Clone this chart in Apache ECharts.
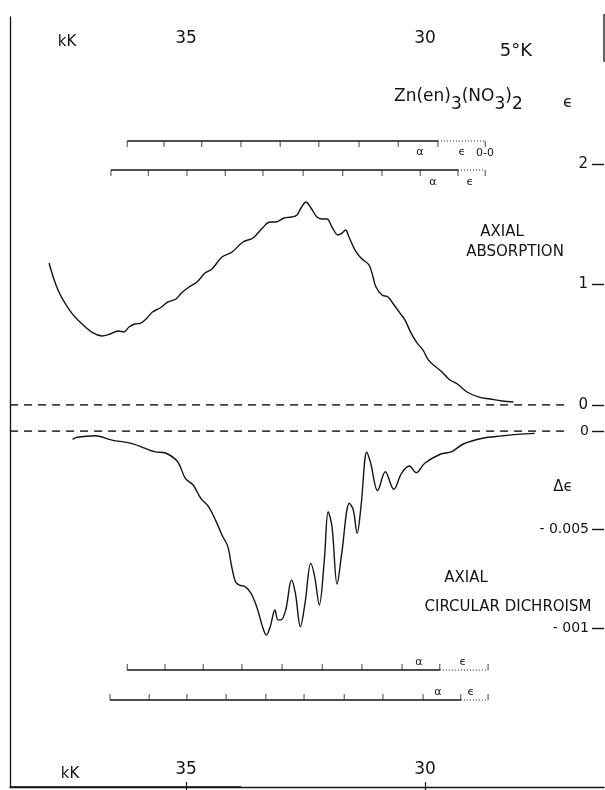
<!DOCTYPE html>
<html><head><meta charset="utf-8">
<script src="https://cdn.jsdelivr.net/npm/echarts@6/dist/echarts.min.js"></script>
<style>html,body{margin:0;padding:0;background:#fff}#c{width:605px;height:790px}</style>
</head><body><div id="c"></div>
<script>
// ---- data (wavenumber in kK) ----
const absWavenumber = [37.866,37.678,37.437,37.196,36.945,36.757,36.590,36.422,36.297,36.192,36.067,35.941,35.816,35.701,35.544,35.376,35.209,35.094,34.937,34.770,34.602,34.456,34.247,34.037,33.807,33.598,33.400,33.242,33.117,32.950,32.793,32.678,32.594,32.489,32.385,32.259,32.155,32.050,31.946,31.820,31.736,31.663,31.590,31.464,31.339,31.172,31.098,31.025,30.900,30.774,30.648,30.523,30.418,30.293,30.167,30.042,29.927,29.770,29.644,29.477,29.320,29.121,28.870,28.640,28.389,28.149];
const absEpsilon = [1.178,0.954,0.788,0.680,0.598,0.573,0.589,0.614,0.606,0.647,0.672,0.680,0.722,0.772,0.805,0.855,0.880,0.929,0.979,1.021,1.095,1.129,1.228,1.270,1.353,1.386,1.469,1.519,1.519,1.552,1.560,1.577,1.635,1.685,1.635,1.560,1.544,1.544,1.477,1.411,1.427,1.452,1.394,1.286,1.220,1.162,1.079,0.979,0.913,0.896,0.830,0.763,0.705,0.598,0.515,0.456,0.373,0.315,0.274,0.207,0.174,0.108,0.066,0.050,0.033,0.025];
const cdWavenumber = [37.372,37.276,36.912,36.548,36.144,35.661,35.418,35.176,35.014,34.851,34.690,34.529,34.368,34.247,34.125,34.044,33.964,33.883,33.762,33.640,33.560,33.479,33.400,33.318,33.237,33.140,33.075,33.019,32.914,32.793,32.711,32.607,32.510,32.389,32.307,32.211,32.106,32.025,31.945,31.839,31.742,31.581,31.500,31.420,31.339,31.217,31.136,30.991,30.830,30.653,30.491,30.328,30.184,30.006,29.682,29.441,29.199,28.795,28.391,28.067,27.705];
const cdDeltaEps = [-0.00042,-0.00032,-0.00024,-0.00046,-0.00063,-0.00105,-0.00113,-0.00156,-0.00240,-0.00274,-0.00342,-0.00384,-0.00460,-0.00528,-0.00587,-0.00689,-0.00765,-0.00782,-0.00790,-0.00824,-0.00866,-0.00925,-0.00993,-0.01036,-0.00993,-0.00909,-0.00959,-0.00959,-0.00909,-0.00756,-0.00824,-0.00993,-0.00875,-0.00672,-0.00740,-0.00883,-0.00655,-0.00410,-0.00486,-0.00777,-0.00621,-0.00367,-0.00401,-0.00519,-0.00384,-0.00108,-0.00164,-0.00303,-0.00207,-0.00296,-0.00215,-0.00178,-0.00212,-0.00164,-0.00118,-0.00105,-0.00066,-0.00037,-0.00025,-0.00017,-0.00012];
// vibronic progression markers (kK)
const progTop1 = [36.23,35.46,34.67,33.85,33.03,32.22,31.38,30.56,29.73];
const progTop2 = [36.57,35.79,34.98,34.18,33.39,32.55,31.72,30.90,30.10,29.31];
const progBot1 = [36.23,35.44,34.64,33.83,32.99,32.15,31.32,30.48,29.69];
const progBot2 = [36.59,35.77,34.98,34.16,33.33,32.53,31.69,30.88,30.04,29.25];
const epsTop = 28.74, epsBot = 28.68;
const xTicks = [35, 30];
const cdTickText = {'0':'0','-5':'- 0.005','-10':'- 001'};
const zeroLineSpan = [38.68, 27.07];

// ---- layout ----
const XMIN = 26.255, XMAX = 38.682;
const INK = '#141414';
const FONT = 'DejaVu Sans';
const chart = echarts.init(document.getElementById('c'), null, {renderer:'canvas'});
const barRows = [
  {p: progTop1, e: epsTop, y: 141, dir: 1},
  {p: progTop2, e: epsTop, y: 170, dir: 1},
  {p: progBot1, e: epsBot, y: 670, dir: -1},
  {p: progBot2, e: epsBot, y: 700, dir: -1}
];
const grids = [
  {left:10, right:1, top:17, bottom:3},
  {left:10, right:1, top:164, bottom:385},
  {left:10, right:1, top:431, bottom:162}
];
const hiddenX = gi => ({type:'value', gridIndex:gi, min:XMIN, max:XMAX, inverse:true, show:false});
const hiddenY = gi => ({type:'value', gridIndex:gi, min:0, max:1, show:false});
const xAxes = [
  {type:'value', gridIndex:0, position:'top', min:XMIN, max:XMAX, inverse:true,
   axisLine:{show:true, lineStyle:{color:INK, width:1.3}},
   axisTick:{show:true, inside:true, length:8, customValues:xTicks, lineStyle:{color:INK, width:1.2}},
   axisLabel:{show:true, inside:true, margin:13, customValues:xTicks, fontSize:17, fontFamily:FONT, color:INK},
   splitLine:{show:false}},
  {type:'value', gridIndex:0, position:'bottom', min:XMIN, max:XMAX, inverse:true,
   axisLine:{show:false},
   axisTick:{show:true, inside:true, length:5, customValues:xTicks, lineStyle:{color:INK, width:1.2}},
   axisLabel:{show:true, inside:true, margin:9, customValues:xTicks, fontSize:17, fontFamily:FONT, color:INK},
   splitLine:{show:false}},
  hiddenX(1), hiddenX(2)
];
const yAxes = [
  {type:'value', gridIndex:0, min:0, max:1, position:'left',
   axisLine:{show:true, lineStyle:{color:INK, width:1.3}}, axisTick:{show:false}, axisLabel:{show:false}, splitLine:{show:false}},
  {type:'value', gridIndex:1, min:0, max:2, interval:1, position:'right',
   axisLine:{show:false}, splitLine:{show:false},
   axisTick:{show:true, inside:true, length:12, lineStyle:{color:INK, width:1.4}},
   axisLabel:{show:true, inside:true, margin:16, fontSize:15, fontFamily:FONT, color:INK}},
  {type:'value', gridIndex:2, min:-0.01, max:0, interval:0.005, position:'right',
   axisLine:{show:false}, splitLine:{show:false},
   axisTick:{show:true, inside:true, length:12, lineStyle:{color:INK, width:1.4}},
   axisLabel:{show:true, inside:true, margin:15, fontSize:14, fontFamily:FONT, color:INK,
     formatter: v => cdTickText[String(Math.round(v*1000))] }}
];
const series = [
  {type:'line', xAxisIndex:2, yAxisIndex:1, data: absWavenumber.map((x,i)=>[x, absEpsilon[i]]),
   smooth:0.35, symbol:'none', lineStyle:{color:INK, width:1.4}, silent:true, animation:false},
  {type:'line', xAxisIndex:2, yAxisIndex:1, data: zeroLineSpan.map(x=>[x,0]),
   symbol:'none', lineStyle:{color:'#000', width:1.3, type:[8,6]}, silent:true, animation:false},
  {type:'line', xAxisIndex:3, yAxisIndex:2, data: cdWavenumber.map((x,i)=>[x, cdDeltaEps[i]]),
   smooth:0.35, symbol:'none', clip:false, lineStyle:{color:INK, width:1.4}, silent:true, animation:false},
  {type:'line', xAxisIndex:3, yAxisIndex:2, data: zeroLineSpan.map(x=>[x,0]),
   symbol:'none', lineStyle:{color:'#000', width:1.3, type:[8,6]}, silent:true, animation:false}
];
barRows.forEach((b, k) => {
  const gi = grids.length;
  grids.push({left:10, right:1, top:b.y-1, height:1});
  const xi = xAxes.length, yi = yAxes.length;
  xAxes.push(hiddenX(gi)); yAxes.push(hiddenY(gi));
  const ax = {xAxisIndex: xi, yAxisIndex: yi, silent:true, animation:false};
  const last = b.p[b.p.length-1];
  series.push(Object.assign({type:'line', data:[[b.p[0],0],[last,0]], symbol:'none', clip:false,
    lineStyle:{color:INK, width:1.3}}, ax));
  series.push(Object.assign({type:'line', data:[[last,0],[b.e,0]], symbol:'none', clip:false,
    lineStyle:{color:INK, width:1, type:[1,2]}}, ax));
  series.push(Object.assign({type:'scatter', data: b.p.concat([b.e]).map(x=>[x,0]), symbol:'rect', clip:false,
    symbolSize:[1,6], symbolOffset:[0, 3*b.dir], itemStyle:{color:INK}}, ax));
});

const txt = (text, x, y, size, align) => ({type:'text', x:x, y:y, silent:true,
  style:{text:text, font: size+'px "'+FONT+'"', fill:INK, textAlign: align||'center', textVerticalAlign:'middle'}});
const graphic = [
  {type:'line', silent:true, shape:{x1:604, y1:14, x2:604, y2:62}, style:{stroke:INK, lineWidth:1.3}},
  {type:'line', silent:true, shape:{x1:10, y1:787, x2:241, y2:787}, style:{stroke:INK, lineWidth:1.3}},
  txt('kK', 67, 42, 15),
  txt('kK', 70, 774, 15),
  txt('5°K', 516, 51, 18),
  {type:'text', x:394, y:97, silent:true, style:{
     text:'Zn(en){s|3}(NO{s|3}){s|2}', font:'17px "'+FONT+'"', fill:INK, textVerticalAlign:'middle',
     rich:{s:{fontSize:17, fontFamily:FONT, fill:INK, padding:[16,0,0,0]}}}},
  txt('ϵ', 568, 103, 16),
  txt('AXIAL', 502, 232, 15),
  txt('ABSORPTION', 515, 252, 15),
  txt('AXIAL', 466, 578, 15),
  txt('CIRCULAR DICHROISM', 508, 607, 15),
  txt('Δϵ', 563, 487, 15),
  txt('α', 420, 152, 11), txt('ϵ', 462, 152, 11), txt('0-0', 485, 153, 11),
  txt('α', 433, 182, 11), txt('ϵ', 470, 182, 11),
  txt('α', 419, 662, 11), txt('ϵ', 463, 662, 11),
  txt('α', 438, 692, 11), txt('ϵ', 471, 692, 11)
];

chart.setOption({animation:false, backgroundColor:'#fff', grid:grids, xAxis:xAxes, yAxis:yAxes, series:series, graphic:graphic});
</script></body></html>
